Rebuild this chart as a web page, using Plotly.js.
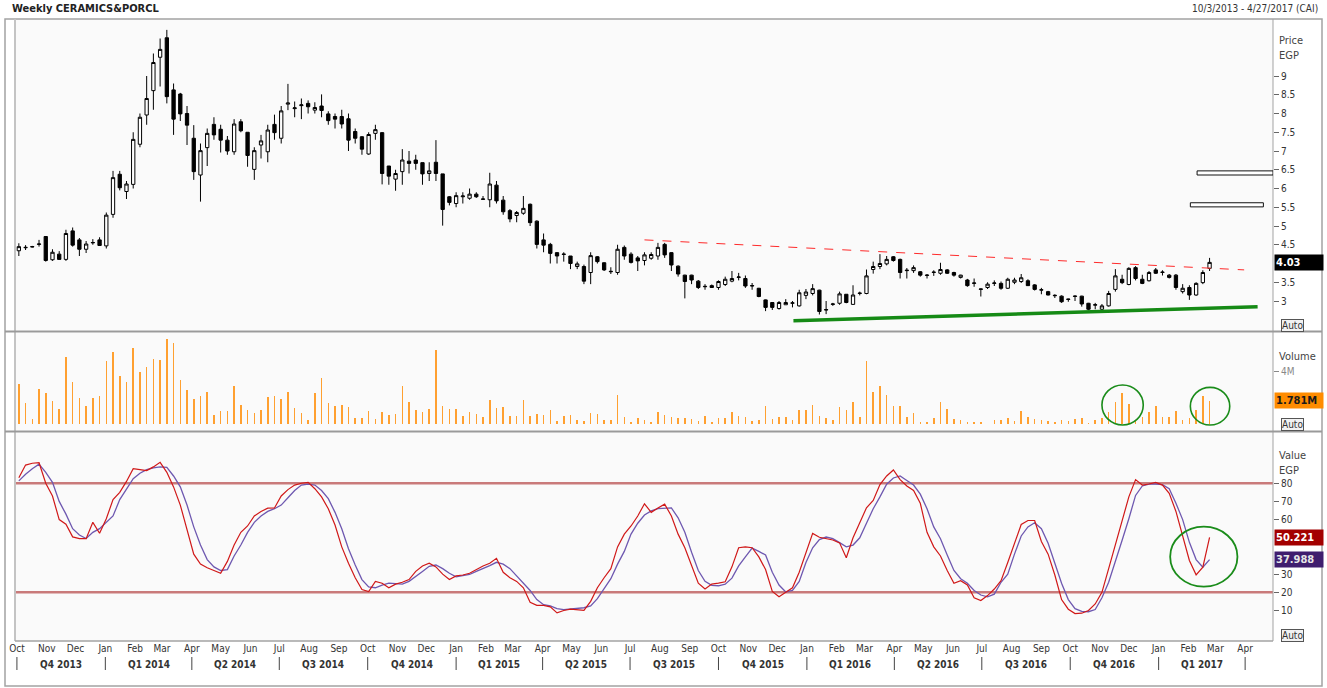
<!DOCTYPE html>
<html><head><meta charset="utf-8">
<script src="https://cdn.plot.ly/plotly-3.0.1.min.js"></script>
<style>html,body{margin:0;padding:0;background:#fff}#chart{width:1327px;height:688px}</style>
</head><body><div id="chart"></div>
<script>
// ---------------- DATA ----------------
const firstWeek = '2013-10-03';
const opens = [4.34,4.42,4.44,4.51,4.72,4.1,4.25,4.11,4.87,4.63,4.38,4.55,4.63,4.47,5.31,6.38,5.92,6.11,7.18,7.96,8.61,9.5,10.02,8.63,8.52,8.0,7.34,6.36,7.09,7.71,7.58,7.29,6.98,7.78,7.5,6.51,7.16,6.98,7.71,7.34,8.25,8.13,8.21,8.27,8.09,8.2,7.99,7.92,7.92,7.86,7.52,7.38,6.92,7.47,7.49,6.6,6.25,6.45,6.73,6.76,6.69,6.4,6.7,6.39,5.78,5.6,5.78,5.74,5.85,5.71,5.7,6.09,5.69,5.41,5.28,5.34,5.58,5.13,4.63,4.51,4.29,4.24,4.2,3.92,3.92,3.76,4.18,4.02,3.78,3.76,4.43,4.25,4.15,4.08,4.14,4.2,4.51,4.29,3.93,3.69,3.69,3.53,3.38,3.41,3.36,3.44,3.53,3.63,3.6,3.4,3.34,3.03,2.96,2.8,2.9,2.94,2.87,3.15,3.2,3.29,2.76,2.91,2.94,3.18,2.91,3.2,3.2,3.84,3.92,3.99,4.18,4.11,3.81,3.81,3.78,3.68,3.76,3.74,3.83,3.76,3.63,3.56,3.47,3.31,3.36,3.47,3.47,3.34,3.5,3.52,3.54,3.43,3.29,3.25,3.14,3.13,3.04,3.12,3.13,2.94,2.89,2.78,2.87,3.31,3.58,3.44,3.89,3.58,3.54,3.83,3.76,3.69,3.69,3.25,3.36,3.16,3.49,3.87];
const highs = [4.54,4.49,4.47,4.63,4.72,4.38,4.33,4.9,4.96,4.68,4.6,4.65,4.7,5.36,6.47,6.47,6.2,7.5,8.0,9.0,9.6,10.0,10.23,8.8,8.55,8.2,7.69,7.2,7.6,7.9,7.7,7.4,7.85,7.85,7.5,7.1,7.43,7.7,7.97,8.2,8.79,8.32,8.4,8.35,8.3,8.51,8.06,8.0,8.1,8.0,7.6,7.4,7.5,7.7,7.5,6.6,6.5,7.05,7.0,6.9,6.69,6.7,7.29,6.39,5.8,5.9,5.9,6.0,5.9,5.8,6.42,6.2,5.8,5.45,5.4,5.8,5.6,5.15,4.8,4.55,4.3,4.3,4.2,4.05,3.97,4.3,4.2,4.03,3.9,4.5,4.48,4.3,4.2,4.3,4.3,4.55,4.55,4.3,3.95,3.7,3.7,3.56,3.45,3.44,3.55,3.65,3.8,3.75,3.68,3.48,3.35,3.04,2.97,3.0,3.05,3.0,3.3,3.32,3.45,3.3,3.0,2.95,3.25,3.18,3.42,3.25,3.84,4.05,4.25,4.2,4.2,4.13,3.88,3.95,3.8,3.72,3.82,4.02,3.85,3.78,3.7,3.59,3.6,3.33,3.5,3.55,3.52,3.62,3.62,3.72,3.58,3.45,3.35,3.27,3.18,3.15,3.06,3.15,3.14,2.95,2.95,2.92,3.27,3.85,3.7,3.9,3.93,3.7,3.8,3.88,3.82,3.72,3.72,3.45,3.42,3.5,3.82,4.15];
const lows = [4.2,4.36,4.43,4.45,4.05,4.07,4.1,4.07,4.45,4.2,4.28,4.5,4.47,4.4,5.22,5.95,5.72,6.0,7.1,7.7,8.1,8.72,8.27,7.43,7.8,7.16,6.23,5.65,6.6,7.3,6.96,6.9,6.9,7.5,6.58,6.23,6.8,6.7,7.3,7.2,8.09,7.9,7.85,8.0,8.0,7.9,7.7,7.6,7.6,7.0,7.2,6.9,6.9,7.3,6.11,6.1,5.94,6.1,6.4,6.5,6.1,6.2,6.2,5.01,5.55,5.5,5.6,5.7,5.75,5.7,5.5,5.6,5.3,5.1,5.1,5.3,5.0,4.4,4.3,4.0,4.0,4.05,3.85,3.85,3.45,3.45,4.0,3.8,3.72,3.7,4.1,4.0,3.8,3.95,4.1,4.1,4.15,3.8,3.65,3.07,3.45,3.32,3.3,3.36,3.3,3.4,3.5,3.55,3.35,3.3,3.1,2.73,2.76,2.77,2.9,2.83,2.85,3.05,3.15,2.64,2.65,2.87,2.9,2.94,2.9,3.15,3.18,3.73,3.85,3.95,4.05,3.6,3.6,3.75,3.65,3.6,3.67,3.7,3.72,3.65,3.6,3.38,3.38,3.12,3.32,3.4,3.3,3.32,3.45,3.48,3.4,3.28,3.18,3.15,3.08,2.95,2.98,3.0,2.85,2.75,2.78,2.75,2.85,3.25,3.45,3.42,3.55,3.45,3.52,3.72,3.68,3.6,3.3,3.2,3.03,3.14,3.45,3.8];
const closes = [4.45,4.43,4.45,4.52,4.08,4.3,4.11,4.8,4.49,4.38,4.52,4.56,4.48,5.29,6.29,6.02,6.12,7.31,7.9,8.4,9.36,9.71,8.45,7.85,7.99,7.69,6.45,7.01,7.47,7.43,7.29,7.0,7.72,7.54,6.88,7.01,7.27,7.56,7.49,8.07,8.28,8.15,8.23,8.18,8.16,8.08,7.81,7.85,7.72,7.29,7.34,7.05,7.44,7.57,6.4,6.33,6.4,6.76,6.67,6.67,6.39,6.47,6.4,5.44,5.63,5.81,5.8,5.85,5.78,5.72,6.12,5.67,5.38,5.19,5.36,5.47,5.09,4.51,4.49,4.27,4.2,4.25,4.0,3.99,3.53,4.21,4.05,3.83,3.79,4.38,4.2,4.03,4.07,4.23,4.24,4.43,4.23,3.96,3.72,3.52,3.56,3.36,3.39,3.36,3.52,3.58,3.6,3.64,3.4,3.41,3.12,2.83,2.83,2.96,2.96,2.95,3.22,3.24,3.33,2.72,2.77,2.92,3.19,2.96,3.16,3.21,3.67,3.92,4.0,4.11,4.08,3.76,3.82,3.89,3.69,3.69,3.77,3.84,3.74,3.69,3.69,3.41,3.48,3.32,3.45,3.48,3.34,3.58,3.56,3.62,3.41,3.31,3.3,3.16,3.15,2.98,3.05,3.13,2.92,2.78,2.9,2.87,3.2,3.67,3.49,3.87,3.6,3.47,3.76,3.74,3.77,3.63,3.36,3.34,3.16,3.47,3.76,4.03];
const volumeM = [3.07,1.65,0.43,2.69,2.36,1.77,1.17,5.15,3.22,1.98,1.39,1.98,2.13,4.82,5.5,3.68,3.22,5.8,3.98,4.33,4.97,4.89,6.46,6.18,3.37,2.61,1.93,2.13,2.48,0.71,1.04,1.04,2.92,1.47,1.09,0.89,1.09,2.05,2.13,1.9,2.46,1.24,0.86,0.35,2.41,3.5,1.62,1.37,1.44,1.32,0.48,0.51,1.01,0.43,0.94,0.71,0.79,2.92,1.7,1.09,0.94,1.14,5.63,1.37,1.17,1.17,0.63,0.94,0.79,0.56,1.85,1.24,1.32,0.63,0.63,1.85,0.63,0.79,0.71,1.09,0.28,0.63,0.71,0.35,0.28,0.86,0.79,0.35,0.35,2.2,0.56,0.2,0.48,0.35,0.15,0.94,0.71,0.53,0.48,0.48,0.41,0.28,0.63,0.18,0.48,0.48,0.94,0.63,0.53,0.28,0.33,1.39,0.41,0.53,0.53,0.33,1.09,1.09,1.47,0.63,0.48,0.35,1.32,1.09,1.7,0.53,4.82,2.46,2.92,2.2,1.39,1.39,0.53,0.86,0.2,0.2,0.48,1.7,1.17,0.41,0.33,0.2,0.2,0.15,0.05,0.33,0.33,0.48,0.28,1.01,0.56,0.41,0.35,0.28,0.2,0.35,0.28,0.41,0.48,0.13,0.33,0.46,0.94,1.7,2.36,1.55,0.33,0.53,0.94,1.39,0.53,0.53,1.01,0.33,0.48,1.09,2.13,1.781];
const stochK = [83,90,91,91.3,80,73,60,57.5,50.5,49.5,49.5,58.5,52.5,60.5,71,75,81,88,87.5,87,89,91.5,86,78,68,55,41,35.5,33.5,32,30.5,37,46,53,56.5,62,64.5,66.3,66.4,73,76.5,79,80,80.5,77,72.5,66,57,45,36,28,21.5,20.4,26,25,22.5,24.5,25.5,27,31.5,34.5,36,34,30,27,29,29.5,30.5,32.5,34.5,36,38.7,31,28,26,22.5,14.5,12.8,12.8,12,8.7,10,10.7,10.5,10,15,22.5,28,33,45,52,56.5,62,68.7,64,66.4,68.5,62,52,44.5,35,25,21.8,24.5,25,25.8,34,44.5,45,44.5,39.5,32.5,20.5,17.5,20,22.5,31,42,52.4,50.3,49.6,48.8,47.2,39,50,58.5,66.5,70.5,79.3,84,87.3,82,78.5,76,69,53,45,40,32,25,26.4,24,17,15.5,18.2,21.8,26.4,36.4,47.3,57.3,59.5,59.5,48,41,29.5,16,10.7,8.3,8.5,10,13.6,20,33,46,59,72.5,82,79,79.6,80.5,79,74.5,64.5,51.5,37.5,29.6,33.8,50.221];
const stochD = [81.3,85,88,90.5,86,80.5,70,63,55,51.5,49.6,53,55,58.5,62,71,77,82.5,85.5,87.5,88.5,89,88.7,84,78,68,56,46,38,34,32,32.5,40,46,53,58.5,62,64.5,66,68,72,76,79,79.5,79,76,71.5,64,55,44,35,27,23,22.5,24,25,24.8,24.5,26,28.5,31.5,34.3,35,33,30.5,28.5,29,29.8,31.5,33,34.7,36.5,35.5,33,29,25,21,16,13.2,12.5,11,10.5,10.8,11,11.5,12.5,16.5,22,27.5,35.5,42.5,52,58,62.5,64.8,66,66.4,66.4,61,53,42,32,26,23.8,23.6,24.5,27.8,34.5,39.5,44.3,42.5,40.5,31,24,20.2,21,26,36.4,44.5,49,50.4,49.5,47.3,45,46,50,58,66,72.5,79.5,82.9,84,81.5,79,74,66,56,49.5,40.5,32,27.5,25,21,18.5,17.5,19,25.5,30,41,51,56,58.3,55,47,36,25,16,11,9.5,9.3,10.5,17,25.5,36.6,48.6,60.5,73.3,78.5,79.5,79.6,79.2,77,69,60,47.5,38,33.8,37.988];
const monthNames = ['Jan','Feb','Mar','Apr','May','Jun','Jul','Aug','Sep','Oct','Nov','Dec'];
const quarterLabels = ['Q4 2013','Q1 2014','Q2 2014','Q3 2014','Q4 2014','Q1 2015','Q2 2015','Q3 2015','Q4 2015','Q1 2016','Q2 2016','Q3 2016','Q4 2016','Q1 2017'];
const quarterStarts = ['2013-10-01','2014-01-01','2014-04-01','2014-07-01','2014-10-01','2015-01-01','2015-04-01','2015-07-01','2015-10-01','2016-01-01','2016-04-01','2016-07-01','2016-10-01','2017-01-01','2017-04-01'];
const priceTicks = [3,3.5,4.5,5,5.5,6,6.5,7,7.5,8,8.5,9];
const stochTicks = [10,20,30,60,70,80];
const stochLevels = [80,20];
// analyst drawings (data coordinates)
const resistanceLine = {x:['2015-07-16','2017-03-31'], y:[4.63,3.83]};
const supportLine = {x:['2015-12-18','2017-04-14'], y:[2.475,2.85]};
const targetBoxes = [{x:['2017-02-10','2017-04-30'], y:[6.36,6.47]},{x:['2017-02-03','2017-04-20'], y:[5.51,5.62]}];
const volCircles = [{x:['2016-11-03','2016-12-16'], y:[-0.05,2.99]},{x:['2017-02-03','2017-03-16'], y:[-0.05,2.81]}];
const stochCircle = {x:['2017-01-13','2017-03-24'], y:[23.1,56.1]};

// ---------------- BUILD ----------------
const DAY = 86400000;
const t0 = Date.parse(firstWeek + 'T00:00:00Z');
const dates = closes.map((_, i) => new Date(t0 + i * 7 * DAY).toISOString().slice(0, 10));
const monthTickVals = [], monthTickText = [];
for (let y = 2013, m = 9; y < 2017 || (y === 2017 && m <= 3); m++) {
  if (m > 11) { m = 0; y++; }
  if (y === 2017 && m > 3) break;
  monthTickVals.push(y + '-' + String(m + 1).padStart(2, '0') + '-01');
  monthTickText.push(monthNames[m]);
}
const FONT = 'DejaVu Sans Condensed, DejaVu Sans, sans-serif';
const pxX = px => (px - 15) / 1258;
const pxY = py => (641 - py) / 622;

const traces = [
  {type:'candlestick', x:dates, open:opens, high:highs, low:lows, close:closes, yaxis:'y',
   increasing:{line:{color:'#000', width:1}, fillcolor:'#ffffff'},
   decreasing:{line:{color:'#000', width:1}, fillcolor:'#000000'},
   whiskerwidth:0, hoverinfo:'skip', showlegend:false},
  {type:'bar', x:dates, y:volumeM, yaxis:'y2', width:1.6*DAY, marker:{color:'#ffa030', line:{width:0}}, hoverinfo:'skip', showlegend:false},
  {type:'scatter', mode:'lines', x:dates, y:stochD, yaxis:'y3', line:{color:'#6e58b0', width:1.3}, hoverinfo:'skip', showlegend:false},
  {type:'scatter', mode:'lines', x:dates, y:stochK, yaxis:'y3', line:{color:'#d01818', width:1.2}, hoverinfo:'skip', showlegend:false}
];

const shapes = [];
stochLevels.forEach(v => shapes.push({type:'line', xref:'paper', yref:'y3', x0:0, x1:1, y0:v, y1:v, line:{color:'#c97a7a', width:2.5}, layer:'below'}));
const gray = '#a3a3a3';
shapes.push({type:'rect', xref:'paper', yref:'paper', x0:pxX(5), x1:pxX(1322), y0:pxY(686), y1:pxY(19), line:{color:gray, width:1.5}});
shapes.push({type:'line', xref:'paper', yref:'paper', x0:pxX(1273), x1:pxX(1273), y0:pxY(641), y1:pxY(19), line:{color:gray, width:1}});
shapes.push({type:'line', xref:'paper', yref:'paper', x0:pxX(15), x1:pxX(15), y0:pxY(641), y1:pxY(19), line:{color:'#c4c4c4', width:2}});
[331.5, 431.5].forEach(py => shapes.push({type:'line', xref:'paper', yref:'paper', x0:pxX(5), x1:pxX(1322), y0:pxY(py), y1:pxY(py), line:{color:'#9a9a9a', width:2}}));
shapes.push({type:'line', xref:'paper', yref:'paper', x0:pxX(15), x1:pxX(1273), y0:pxY(641), y1:pxY(641), line:{color:gray, width:1.5}});
quarterStarts.forEach(d => shapes.push({type:'line', xref:'x', yref:'paper', x0:d, x1:d, y0:pxY(657), y1:pxY(670), line:{color:'#444', width:1}}));
shapes.push({type:'line', xref:'x', yref:'y', x0:resistanceLine.x[0], x1:resistanceLine.x[1], y0:resistanceLine.y[0], y1:resistanceLine.y[1], line:{color:'#ff2a2a', width:1, dash:'dash'}});
shapes.push({type:'line', xref:'x', yref:'y', x0:supportLine.x[0], x1:supportLine.x[1], y0:supportLine.y[0], y1:supportLine.y[1], line:{color:'#158a15', width:3.5}});
targetBoxes.forEach(b => shapes.push({type:'rect', xref:'x', yref:'y', x0:b.x[0], x1:b.x[1], y0:b.y[0], y1:b.y[1], line:{color:'#111', width:1}, fillcolor:'#ffffff'}));
volCircles.forEach(c => shapes.push({type:'circle', xref:'x', yref:'y2', x0:c.x[0], x1:c.x[1], y0:c.y[0], y1:c.y[1], line:{color:'#1a8c1a', width:1.6}}));
shapes.push({type:'circle', xref:'x', yref:'y3', x0:stochCircle.x[0], x1:stochCircle.x[1], y0:stochCircle.y[0], y1:stochCircle.y[1], line:{color:'#1a8c1a', width:1.8}});

const annotations = [];
const txt = (text, px, py, opts={}) => annotations.push(Object.assign({text, xref:'paper', yref:'paper', x:pxX(px), y:pxY(py), xanchor:'left', yanchor:'middle', showarrow:false, font:{family:FONT, size:10, color:'#333'}}, opts));
txt('<b>Weekly CERAMICS&PORCL</b>', 10, 9, {font:{family:FONT, size:11, color:'#222'}});
txt('10/3/2013 - 4/27/2017 (CAI)', 1320, 9, {xanchor:'right'});
txt('Price', 1277, 41, {font:{family:FONT, size:11, color:'#444'}});
txt('EGP', 1277, 56, {font:{family:FONT, size:11, color:'#444'}});
txt('Volume', 1277, 356, {font:{family:FONT, size:11, color:'#444'}});
txt('Value', 1277, 455, {font:{family:FONT, size:11, color:'#444'}});
txt('EGP', 1277, 470, {font:{family:FONT, size:11, color:'#444'}});
[325, 425, 635].forEach(py => txt('Auto', 1281, py, {bordercolor:'#555', borderwidth:1, borderpad:0, bgcolor:'#f2f2f2', font:{family:FONT, size:10, color:'#333'}}));
const valBox = (text, yref, y, bg, fg) => annotations.push({text:'<b>'+text+'</b>', xref:'paper', yref, x:pxX(1274), y, xanchor:'left', yanchor:'middle', showarrow:false, bgcolor:bg, width:46, align:'left', borderpad:1, font:{family:FONT, size:11, color:fg}});
valBox(String(closes[closes.length-1]), 'y', closes[closes.length-1], '#000000', '#ffffff');
valBox(volumeM[volumeM.length-1] + 'M', 'y2', volumeM[volumeM.length-1], '#ff8c00', '#1a1a1a');
valBox(String(stochK[stochK.length-1]), 'y3', stochK[stochK.length-1], '#a30000', '#ffffff');
valBox(String(stochD[stochD.length-1]), 'y3', stochD[stochD.length-1], '#3f1d6e', '#e6e6e6');
quarterLabels.forEach((q, i) => {
  const a = Date.parse(quarterStarts[i]), b = Date.parse(quarterStarts[i+1]);
  annotations.push({text:'<b>'+q+'</b>', xref:'x', yref:'paper', x:new Date((a+b)/2).toISOString().slice(0,10), y:pxY(664), xanchor:'center', yanchor:'middle', showarrow:false, font:{family:FONT, size:10, color:'#333'}});
});

const layout = {
  width:1327, height:688,
  margin:{l:15, r:54, t:19, b:47},
  paper_bgcolor:'#ffffff', plot_bgcolor:'#fafafa',
  showlegend:false, bargap:0,
  font:{family:FONT, size:10, color:'#333'},
  xaxis:{type:'date', range:['2013-09-29','2017-04-30'], anchor:'y3', rangeslider:{visible:false},
         tickvals:monthTickVals, ticktext:monthTickText, ticks:'', showgrid:false, zeroline:false, showline:false,
         tickfont:{family:FONT, size:10, color:'#333'}, fixedrange:true},
  yaxis:{domain:[0.5,1], range:[2.227,10.52], side:'right', anchor:'x', tickvals:priceTicks, ticks:'outside', ticklen:5, tickcolor:'#666',
         showgrid:false, zeroline:false, showline:false, tickfont:{family:FONT, size:10, color:'#333'}},
  yaxis2:{domain:[0.3392,0.4952], range:[-0.43,6.94], side:'right', anchor:'x', tickvals:[4], ticktext:['4M'], ticks:'outside', ticklen:5, tickcolor:'#888',
          showgrid:false, zeroline:false, showline:false, tickfont:{family:FONT, size:10, color:'#888'}},
  yaxis3:{domain:[0,0.336], range:[-6.8,108.2], side:'right', anchor:'x', tickvals:stochTicks, ticks:'outside', ticklen:5, tickcolor:'#666',
          showgrid:false, zeroline:false, showline:false, tickfont:{family:FONT, size:10, color:'#333'}},
  shapes, annotations
};
Plotly.newPlot('chart', traces, layout, {staticPlot:true, displayModeBar:false});
</script></body></html>
